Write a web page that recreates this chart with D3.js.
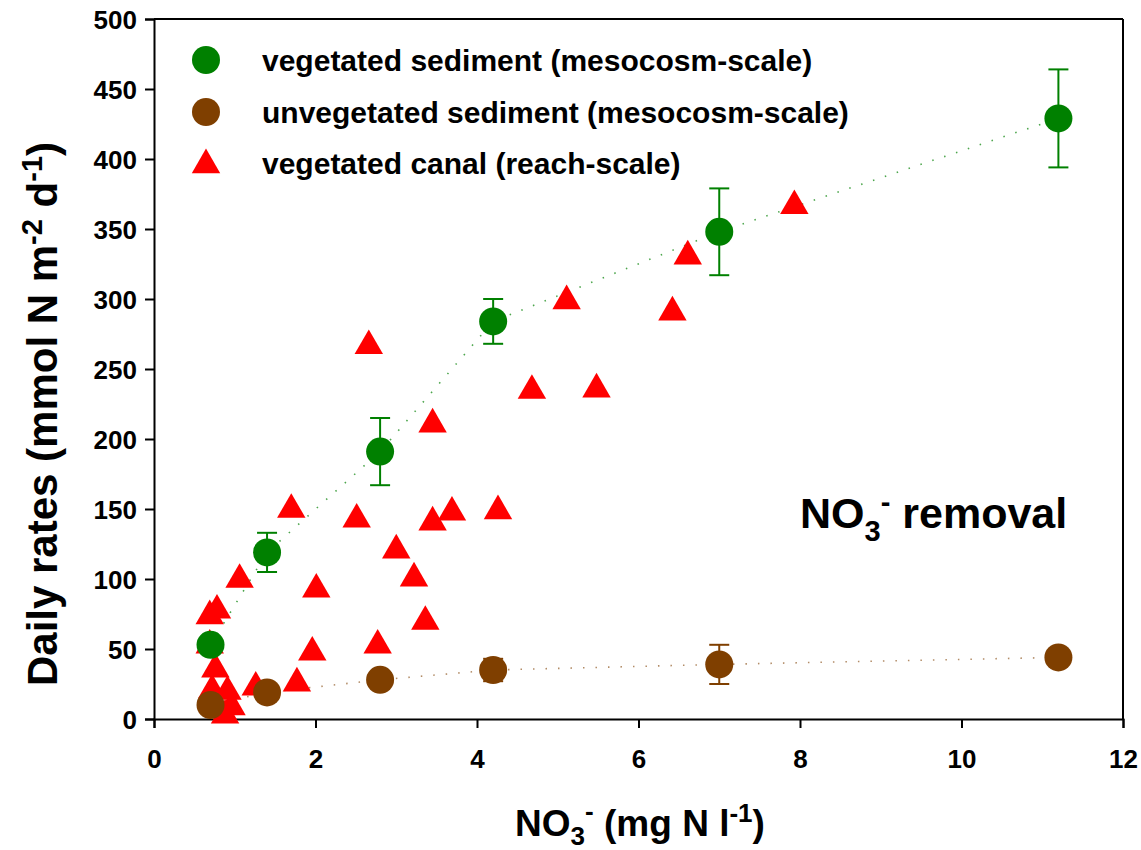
<!DOCTYPE html>
<html><head><meta charset="utf-8">
<script src="https://cdn.jsdelivr.net/npm/d3@7"></script>
<style>
body{margin:0;background:#fff;}
svg text{font-family:"Liberation Sans",Arial,sans-serif;font-weight:bold;fill:#000;}
</style></head>
<body><svg id="c" width="1141" height="850"></svg>
<script>
// ---- data ----
const vegX   = [0.7, 1.4, 2.8, 4.2, 7.0, 11.2];
const vegY   = [53, 119, 191, 284, 348, 429];
const vegErr = [4, 14, 24, 16, 31, 35];
const unvegX   = [0.7, 1.4, 2.8, 4.2, 7.0, 11.2];
const unvegY   = [10, 19, 28, 35, 39, 44];
const unvegErr = [3, 3, 4, 8, 14, 4];
const canalX = [0.69,0.78,0.69,0.76,0.72,0.91,0.88,0.96,1.06,1.26,1.70,1.77,1.96,2.01,2.51,2.66,2.77,3.00,3.22,3.36,3.45,3.45,3.69,4.26,4.68,5.11,5.48,6.42,6.61,7.93];
const canalY = [75,79,54,37,22,21,4,10,101,24,151,27,49,94,144,268,54,122,102,71,142,212,149,150,236,300,237,292,332,368];
const xTicks = [0,2,4,6,8,10,12];
const yTicks = [0,50,100,150,200,250,300,350,400,450,500];
const legendLabels = ["vegetated sediment (mesocosm-scale)","unvegetated sediment (mesocosm-scale)","vegetated canal (reach-scale)"];
const colors = {veg:"#008000", unveg:"#7f3f00", canal:"#ff0000"};

// ---- layout ----
const svg = d3.select("#c");
const L=154, R=1123, T=19, B=719;
const x = d3.scaleLinear().domain([0,12]).range([L,R]);
const y = d3.scaleLinear().domain([0,500]).range([B,T]);

// frame
svg.append("line").attr("x1",L).attr("x2",R).attr("y1",T).attr("y2",T).attr("stroke","#000").attr("stroke-width",2);
svg.append("line").attr("x1",R).attr("x2",R).attr("y1",T).attr("y2",B).attr("stroke","#000").attr("stroke-width",2);

const xAxis = svg.append("g").attr("transform",`translate(0,${B})`)
  .call(d3.axisBottom(x).tickValues(xTicks).tickSize(9).tickPadding(32).tickFormat(d3.format("d")));
const yAxis = svg.append("g").attr("transform",`translate(${L},0)`)
  .call(d3.axisLeft(y).tickValues(yTicks).tickSize(9).tickPadding(8).tickFormat(d3.format("d")));
[xAxis,yAxis].forEach(g=>{
  g.select(".domain").attr("stroke","#000").attr("stroke-width",2);
  g.selectAll(".tick line").attr("stroke","#000").attr("stroke-width",2);
  g.selectAll(".tick text").style("font-size","26px").style("font-family","Liberation Sans, Arial, sans-serif").style("font-weight","bold").attr("fill","#000");
});
xAxis.selectAll(".tick text").attr("dy","0.3em");
yAxis.selectAll(".tick text").attr("dy","0.36em");

// dotted connecting lines
const line = d3.line().x(d=>x(d[0])).y(d=>y(d[1]));
svg.append("path").datum(vegX.map((v,i)=>[v,vegY[i]]))
  .attr("d",line).attr("fill","none").attr("stroke",colors.veg).attr("stroke-width",1.6)
  .attr("stroke-dasharray","1.5,11").attr("opacity",0.7);
svg.append("path").datum(unvegX.map((v,i)=>[v,unvegY[i]]))
  .attr("d",line).attr("fill","none").attr("stroke",colors.unveg).attr("stroke-width",1.6)
  .attr("stroke-dasharray","1.5,11").attr("opacity",0.6);

// triangles
const tri = d3.symbol().type(d3.symbolTriangle).size(350);
svg.append("g").selectAll("path").data(canalX.map((v,i)=>[v,canalY[i]])).join("path")
  .attr("d",tri).attr("transform",d=>`translate(${x(d[0])},${y(d[1])+2})`).attr("fill",colors.canal);

// error bars + circles
function series(xs,ys,es,col){
  const g = svg.append("g");
  const data = xs.map((v,i)=>({x:v,y:ys[i],e:es[i]}));
  const eb = g.selectAll("g.eb").data(data).join("g").attr("stroke",col).attr("stroke-width",2);
  eb.append("line").attr("x1",d=>x(d.x)).attr("x2",d=>x(d.x)).attr("y1",d=>y(d.y-d.e)).attr("y2",d=>y(d.y+d.e));
  eb.append("line").attr("x1",d=>x(d.x)-10).attr("x2",d=>x(d.x)+10).attr("y1",d=>y(d.y-d.e)).attr("y2",d=>y(d.y-d.e));
  eb.append("line").attr("x1",d=>x(d.x)-10).attr("x2",d=>x(d.x)+10).attr("y1",d=>y(d.y+d.e)).attr("y2",d=>y(d.y+d.e));
  g.selectAll("circle").data(data).join("circle").attr("cx",d=>x(d.x)).attr("cy",d=>y(d.y)).attr("r",14).attr("fill",col);
}
series(unvegX,unvegY,unvegErr,colors.unveg);
series(vegX,vegY,vegErr,colors.veg);

// legend
const leg = svg.append("g");
const legY=[60,112,163];
leg.append("circle").attr("cx",206).attr("cy",legY[0]).attr("r",14).attr("fill",colors.veg);
leg.append("circle").attr("cx",206).attr("cy",legY[1]).attr("r",14).attr("fill",colors.unveg);
leg.append("path").attr("d",tri).attr("transform",`translate(206,${legY[2]+2})`).attr("fill",colors.canal);
legendLabels.forEach((t,i)=>{
  leg.append("text").attr("x",262).attr("y",legY[i]).attr("dy","0.35em").style("font-size","30px").text(t);
});

// annotation
const ann = svg.append("text").attr("x",800).attr("y",528).style("font-size","43px");
ann.append("tspan").text("NO");
ann.append("tspan").attr("dy",13).style("font-size","29px").text("3");
ann.append("tspan").attr("dy",-29).style("font-size","29px").text("-");
ann.append("tspan").attr("dy",16).text(" removal");

// x title
const xt = svg.append("text").attr("x",640).attr("y",836).attr("text-anchor","middle").style("font-size","37px");
xt.append("tspan").text("NO");
xt.append("tspan").attr("dy",9).style("font-size","26px").text("3");
xt.append("tspan").attr("dy",-25).style("font-size","26px").text("-");
xt.append("tspan").attr("dy",16).text(" (mg N l");
xt.append("tspan").attr("dy",-14).style("font-size","26px").text("-1");
xt.append("tspan").attr("dy",14).text(")");

// y title
const yt = svg.append("text").attr("transform","translate(57,414) rotate(-90)").attr("text-anchor","middle").style("font-size","42px");
yt.append("tspan").text("Daily rates (mmol N m");
yt.append("tspan").attr("dy",-15).style("font-size","29px").text("-2");
yt.append("tspan").attr("dy",15).text(" d");
yt.append("tspan").attr("dy",-15).style("font-size","29px").text("-1");
yt.append("tspan").attr("dy",15).text(")");
</script></body></html>
